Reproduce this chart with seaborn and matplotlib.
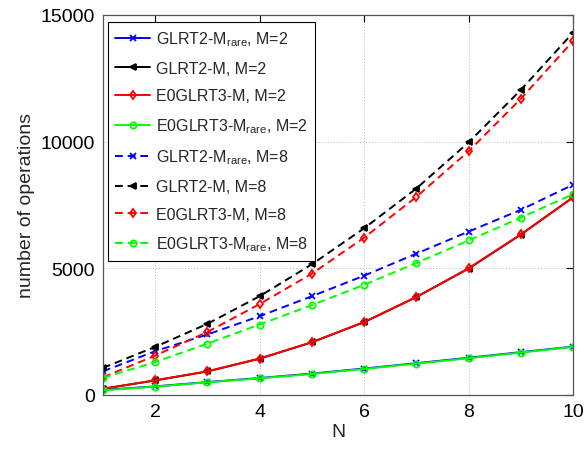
import numpy as np
import pandas as pd
import matplotlib
matplotlib.use("Agg")
import matplotlib.pyplot as plt
import seaborn as sns

N = [1, 2, 3, 4, 5, 6, 7, 8, 9, 10]
glrt2_mrare_m2 = [200, 340, 510, 670, 845, 1045, 1255, 1470, 1690, 1910]
glrt2_m_m2 = [245, 575, 930, 1435, 2080, 2875, 3865, 4990, 6330, 7800]
e0glrt3_m_m2 = [250, 580, 935, 1440, 2085, 2880, 3870, 5000, 6340, 7800]
e0glrt3_mrare_m2 = [185, 330, 500, 660, 830, 1030, 1240, 1450, 1675, 1900]
glrt2_mrare_m8 = [935, 1730, 2390, 3110, 3900, 4710, 5580, 6450, 7310, 8300]
glrt2_m_m8 = [1070, 1900, 2810, 3900, 5160, 6580, 8150, 9970, 12040, 14300]
e0glrt3_m_m8 = [700, 1555, 2490, 3590, 4790, 6210, 7820, 9620, 11690, 13970]
e0glrt3_mrare_m8 = [680, 1300, 2030, 2780, 3550, 4350, 5210, 6100, 7000, 7930]

labels = [
    r"GLRT2-M$_{\mathregular{rare}}$, M=2",
    "GLRT2-M, M=2",
    "E0GLRT3-M, M=2",
    r"E0GLRT3-M$_{\mathregular{rare}}$, M=2",
    r"GLRT2-M$_{\mathregular{rare}}$, M=8",
    "GLRT2-M, M=8",
    "E0GLRT3-M, M=8",
    r"E0GLRT3-M$_{\mathregular{rare}}$, M=8",
]
x_ticks = [2, 4, 6, 8, 10]
y_ticks = [0, 5000, 10000, 15000]

series = [glrt2_mrare_m2, glrt2_m_m2, e0glrt3_m_m2, e0glrt3_mrare_m2,
          glrt2_mrare_m8, glrt2_m_m8, e0glrt3_m_m8, e0glrt3_mrare_m8]

sns.set_style("white")
plt.rcParams["font.family"] = ["Liberation Sans", "DejaVu Sans"]
plt.rcParams["mathtext.fontset"] = "custom"
plt.rcParams["mathtext.rm"] = "Liberation Sans"
plt.rcParams["mathtext.it"] = "Liberation Sans"

styles = [
    dict(color="#0000ff", marker="x", ls="-", ms=4, mfc="#0000ff"),
    dict(color="#000000", marker="<", ls="-", ms=4.5, mfc="#000000"),
    dict(color="#ff0000", marker="d", ls="-", ms=4.5, mfc="none"),
    dict(color="#00ff00", marker="o", ls="-", ms=4.5, mfc="none"),
    dict(color="#0000ff", marker="x", ls="--", ms=4, mfc="#0000ff"),
    dict(color="#000000", marker="<", ls="--", ms=4.5, mfc="#000000"),
    dict(color="#ff0000", marker="d", ls="--", ms=4.5, mfc="none"),
    dict(color="#00ff00", marker="o", ls="--", ms=4.5, mfc="none"),
]

fig = plt.figure(figsize=(5.86, 4.52), dpi=100)
ax = fig.add_axes([103 / 586, 1 - 396 / 452, 470 / 586, (396 - 16) / 452])

for vals, lab, st in zip(series, labels, styles):
    df = pd.DataFrame({"N": N, "ops": vals})
    sns.lineplot(data=df, x="N", y="ops", ax=ax, color=st["color"],
                 marker=st["marker"], markersize=st["ms"],
                 markerfacecolor=st["mfc"], markeredgecolor=st["color"],
                 markeredgewidth=1.3, linewidth=1.4, label=lab)
    ax.lines[-1].set_linestyle(st["ls"])
    if st["ls"] == "--":
        ax.lines[-1].set_dashes((4, 2.5))

ax.set_xlim(1, 10)
ax.set_ylim(0, 15000)
ax.set_xticks(x_ticks)
ax.set_yticks(y_ticks)
ax.set_xticklabels([str(t) for t in x_ticks])
ax.set_yticklabels([str(t) for t in y_ticks])
ax.tick_params(direction="in", length=5, width=0.8, labelsize=14, colors="#000000",
               top=True, right=True, pad=6)
ax.grid(True, linestyle=(0, (1, 2)), color="#bbbbbb", linewidth=0.7)
for s in ax.spines.values():
    s.set_color("#555555")
    s.set_linewidth(0.9)
ax.set_xlabel("N", fontsize=14, labelpad=2)
ax.set_ylabel("number of operations", fontsize=14, labelpad=4)

leg = ax.legend(loc="upper left", bbox_to_anchor=(108 / 586, 1 - 23 / 452),
                bbox_transform=fig.transFigure, fontsize=11.5, frameon=True,
                fancybox=False, edgecolor="#000000", framealpha=1,
                labelspacing=0.8, handlelength=2.2, handletextpad=0.35,
                borderpad=0.45, borderaxespad=0)
leg.get_frame().set_linewidth(0.8)

fig.savefig("out.png", dpi=100)
